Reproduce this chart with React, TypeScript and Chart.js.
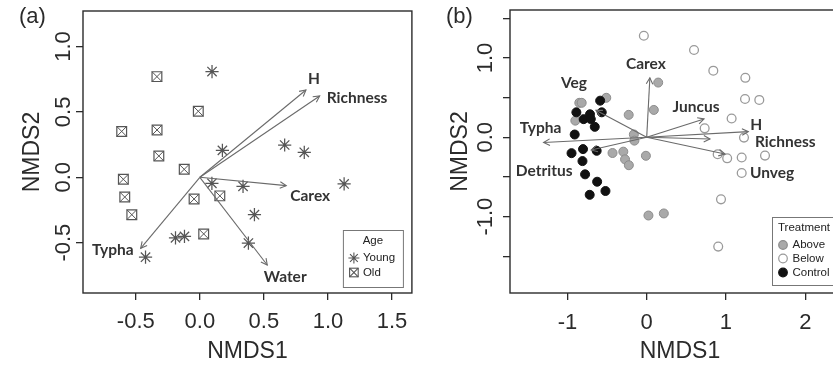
import React, { useEffect, useRef } from 'react';
import { Chart, registerables } from 'chart.js';

Chart.register(...registerables);

// ---------------- Panel (a) data ----------------
const youngX = [0.095, 0.176, 0.662, 0.815, 1.126, 0.094, 0.337, 0.426, 0.379, -0.19, -0.12, -0.424];
const youngY = [0.809, 0.206, 0.247, 0.191, -0.051, -0.046, -0.069, -0.286, -0.503, -0.463, -0.452, -0.611];
const oldX = [-0.335, -0.012, -0.61, -0.334, -0.32, -0.122, -0.597, -0.586, -0.531, -0.045, 0.156, 0.03];
const oldY = [0.77, 0.505, 0.351, 0.362, 0.163, 0.061, -0.015, -0.151, -0.286, -0.166, -0.142, -0.433];
const vecANames = ['H', 'Richness', 'Carex', 'Water', 'Typha'];
const vecAX = [0.828, 0.935, 0.674, 0.526, -0.462];
const vecAY = [0.668, 0.622, -0.064, -0.671, -0.543];
const ticksAX = [-0.5, 0, 0.5, 1, 1.5];
const ticksAY = [-0.5, 0, 0.5, 1];
const legendATitle = 'Age';
const legendAItems = ['Young', 'Old'];

// ---------------- Panel (b) data ----------------
const aboveX = [-0.85, -0.82, -0.51, -0.9, -0.227, 0.09, -0.162, -0.155, -0.431, -0.295, -0.273, -0.225, -0.01, 0.145, 0.022, 0.216];
const aboveY = [0.435, 0.435, 0.498, 0.21, 0.283, 0.345, 0.036, -0.042, -0.198, -0.181, -0.278, -0.352, -0.233, 0.69, -0.986, -0.96];
const belowX = [-0.036, 0.597, 0.84, 1.244, 1.24, 1.42, 1.071, 0.731, 1.227, 0.895, 1.015, 1.198, 1.492, 1.198, 0.937, 0.902];
const belowY = [1.28, 1.101, 0.84, 0.75, 0.483, 0.471, 0.237, 0.113, -0.004, -0.213, -0.265, -0.254, -0.231, -0.45, -0.782, -1.378];
const controlX = [-0.587, -0.567, -0.887, -0.795, -0.715, -0.705, -0.655, -0.908, -0.948, -0.803, -0.631, -0.81, -0.777, -0.625, -0.52, -0.719];
const controlY = [0.462, 0.315, 0.315, 0.229, 0.29, 0.23, 0.132, 0.035, -0.2, -0.149, -0.17, -0.3, -0.467, -0.56, -0.677, -0.725];
const vecBNames = ['Carex', 'Veg', 'Typha', 'Detritus', 'Juncus', 'H', 'Richness', 'Unveg'];
const vecBX = [0.04, -0.64, -1.3, -0.7, 0.723, 1.281, 0.798, 0.987];
const vecBY = [0.75, 0.34, -0.065, -0.16, 0.231, 0.071, -0.021, -0.21];
const ticksBX = [-1, 0, 1, 2];
const ticksBY = [-1.5, -1, -0.5, 0, 0.5, 1, 1.5];
const labeledBY = [-1, 0, 1];
const legendBTitle = 'Treatment';
const legendBItems = ['Above', 'Below', 'Control'];

// ---------------- styles ----------------
const AXIS_FONT = '"Liberation Sans", Arial, sans-serif';
const LABEL_FONT = 'bold 15.5px Lato, "Open Sans", sans-serif';
const INK = '#2b2b2b';
const ARROW = '#6a6a6a';
const SYM = '#555555';
const ABOVE_FILL = '#a9a9a9';
const ABOVE_EDGE = '#8c8c8c';
const BELOW_EDGE = '#9a9a9a';
const CONTROL = '#111111';

// pixel offsets of arrow labels from arrow tips
const labelPlaceA = [
  { dx: 8, dy: -11, align: 'center' },
  { dx: 7, dy: 2, align: 'left' },
  { dx: 4, dy: 10, align: 'left' },
  { dx: 18, dy: 12, align: 'center' },
  { dx: -7, dy: 2, align: 'right' },
];
const labelPlaceB = [
  { dx: -4, dy: -13.5, align: 'center' },
  { dx: -22, dy: -27, align: 'center' },
  { dx: -3, dy: -14, align: 'center' },
  { dx: -47, dy: 21.5, align: 'center' },
  { dx: -8, dy: -12, align: 'center' },
  { dx: 8, dy: -7, align: 'center' },
  { dx: 45, dy: 3, align: 'left' },
  { dx: 25, dy: 19, align: 'left' },
];

const pts = (xs: number[], ys: number[]) => xs.map((x, i) => ({ x, y: ys[i] }));

function arrowDatasets(names: string[], xs: number[], ys: number[], place: any[]) {
  return names.map((name, i) => ({
    label: name,
    data: [{ x: 0, y: 0 }, { x: xs[i], y: ys[i] }],
    showLine: true,
    pointRadius: 0,
    borderColor: ARROW,
    borderWidth: 1.1,
    arrow: true,
    place: place[i],
    order: 0,
  }));
}

function drawStar(ctx: CanvasRenderingContext2D, x: number, y: number, r: number) {
  ctx.beginPath();
  for (let k = 0; k < 4; k++) {
    const a = (k * Math.PI) / 4;
    ctx.moveTo(x - r * Math.cos(a), y - r * Math.sin(a));
    ctx.lineTo(x + r * Math.cos(a), y + r * Math.sin(a));
  }
  ctx.stroke();
}

function drawBoxX(ctx: CanvasRenderingContext2D, x: number, y: number, h: number) {
  ctx.strokeRect(x - h, y - h, 2 * h, 2 * h);
  ctx.beginPath();
  ctx.moveTo(x - h, y - h);
  ctx.lineTo(x + h, y + h);
  ctx.moveTo(x + h, y - h);
  ctx.lineTo(x - h, y + h);
  ctx.stroke();
}

const overlayPlugin = (kind: 'a' | 'b') => ({
  id: 'overlay_' + kind,
  afterDatasetsDraw(chart: any) {
    const ctx: CanvasRenderingContext2D = chart.ctx;
    const ca = chart.chartArea;
    ctx.save();
    // arrow heads + labels
    chart.data.datasets.forEach((ds: any, i: number) => {
      if (!ds.arrow) return;
      const meta = chart.getDatasetMeta(i);
      const p0 = meta.data[0];
      const p1 = meta.data[1];
      const ang = Math.atan2(p1.y - p0.y, p1.x - p0.x);
      const L = 7;
      const A = Math.PI / 6.5;
      ctx.strokeStyle = ARROW;
      ctx.lineWidth = 1.1;
      ctx.beginPath();
      ctx.moveTo(p1.x - L * Math.cos(ang - A), p1.y - L * Math.sin(ang - A));
      ctx.lineTo(p1.x, p1.y);
      ctx.lineTo(p1.x - L * Math.cos(ang + A), p1.y - L * Math.sin(ang + A));
      ctx.stroke();
      ctx.font = LABEL_FONT;
      ctx.fillStyle = '#333';
      ctx.textAlign = ds.place.align;
      ctx.textBaseline = 'middle';
      ctx.fillText(ds.label, p1.x + ds.place.dx, p1.y + ds.place.dy);
    });
    // plot box
    ctx.strokeStyle = INK;
    ctx.lineWidth = 1.4;
    ctx.strokeRect(ca.left, ca.top, ca.right - ca.left, ca.bottom - ca.top);

    // legend
    ctx.font = '11.5px ' + AXIS_FONT;
    ctx.textBaseline = 'middle';
    if (kind === 'a') {
      const w = 60, h = 57;
      const L = ca.right - 9 - w, T = ca.bottom - 6 - h;
      ctx.fillStyle = '#fff';
      ctx.fillRect(L, T, w, h);
      ctx.strokeStyle = '#777';
      ctx.lineWidth = 1;
      ctx.strokeRect(L + 0.5, T + 0.5, w, h);
      ctx.fillStyle = '#222';
      ctx.textAlign = 'center';
      ctx.fillText(legendATitle, L + w / 2, T + 11);
      ctx.textAlign = 'left';
      ctx.strokeStyle = SYM;
      ctx.lineWidth = 1.1;
      drawStar(ctx, L + 11, T + 28, 5.5);
      ctx.fillText(legendAItems[0], L + 20, T + 28);
      drawBoxX(ctx, L + 11, T + 42.5, 4.3);
      ctx.fillText(legendAItems[1], L + 20, T + 42.5);
    } else {
      const w = 70, h = 68;
      const L = ca.right - 8 - w, T = ca.bottom - 8 - h;
      ctx.fillStyle = '#fff';
      ctx.fillRect(L, T, w, h);
      ctx.strokeStyle = '#777';
      ctx.lineWidth = 1;
      ctx.strokeRect(L + 0.5, T + 0.5, w, h);
      ctx.fillStyle = '#222';
      ctx.textAlign = 'left';
      ctx.fillText(legendBTitle, L + 6, T + 11);
      const ys = [T + 28, T + 41.5, T + 55.5];
      const fills = [ABOVE_FILL, '#ffffff', CONTROL];
      const edges = [ABOVE_EDGE, BELOW_EDGE, CONTROL];
      ys.forEach((yy, k) => {
        ctx.beginPath();
        ctx.arc(L + 11, yy, 4.3, 0, Math.PI * 2);
        ctx.fillStyle = fills[k];
        ctx.fill();
        ctx.strokeStyle = edges[k];
        ctx.lineWidth = 1.2;
        ctx.stroke();
        ctx.fillStyle = '#222';
        ctx.fillText(legendBItems[k], L + 20.5, yy);
      });
    }
    ctx.restore();
  },
});

function makeScales(o: any) {
  const tickFont = { family: AXIS_FONT, size: 22, lineHeight: 1 };
  const titleFont = { family: AXIS_FONT, size: 23, lineHeight: 1 };
  const grid = { drawOnChartArea: false, drawTicks: true, tickLength: 7, color: INK, lineWidth: 1.3 };
  return {
    x: {
      type: 'linear',
      position: 'bottom',
      min: o.xMin,
      max: o.xMax,
      afterBuildTicks: (s: any) => {
        s.ticks = o.xTicks.map((v: number) => ({ value: v }));
      },
      afterFit: (s: any) => {
        s.height = o.xAxisH;
        s.paddingLeft = 0;
        s.paddingRight = 0;
      },
      grid,
      border: { display: false },
      ticks: {
        autoSkip: false,
        maxRotation: 0,
        minRotation: 0,
        padding: o.xPad,
        font: tickFont,
        color: INK,
        callback: o.xFmt,
      },
      title: { display: true, text: 'NMDS1', font: titleFont, color: INK, padding: { top: 0, bottom: 3.5 } },
    },
    y: {
      type: 'linear',
      position: 'left',
      min: o.yMin,
      max: o.yMax,
      afterBuildTicks: (s: any) => {
        s.ticks = o.yTicks.map((v: number) => ({ value: v }));
      },
      afterFit: (s: any) => {
        s.width = o.yAxisW;
        s.paddingTop = 0;
        s.paddingBottom = 0;
      },
      grid,
      border: { display: false },
      ticks: {
        autoSkip: false,
        minRotation: 90,
        maxRotation: 90,
        crossAlign: 'center',
        padding: o.yPad,
        font: tickFont,
        color: INK,
        callback: o.yFmt,
      },
      title: { display: true, text: 'NMDS2', font: titleFont, color: INK, padding: { top: o.yTitlePad, bottom: 0 } },
    },
  };
}

function configA(): any {
  return {
    type: 'scatter',
    data: {
      datasets: [
        ...arrowDatasets(vecANames, vecAX, vecAY, labelPlaceA),
        {
          label: 'Young',
          data: pts(youngX, youngY),
          pointStyle: 'star',
          pointRadius: 6.6,
          borderColor: SYM,
          pointBorderWidth: 1.25,
          backgroundColor: 'rgba(0,0,0,0)',
          order: 1,
        },
        {
          label: 'Old',
          data: pts(oldX, oldY),
          pointStyle: 'rect',
          pointRadius: 6.9,
          borderColor: SYM,
          pointBorderWidth: 1.2,
          backgroundColor: 'rgba(0,0,0,0)',
          order: 2,
        },
        {
          label: 'Old-x',
          data: pts(oldX, oldY),
          pointStyle: 'crossRot',
          pointRadius: 6.9,
          borderColor: SYM,
          pointBorderWidth: 1,
          backgroundColor: 'rgba(0,0,0,0)',
          order: 2,
        },
      ],
    },
    options: {
      responsive: false,
      maintainAspectRatio: false,
      animation: false,
      devicePixelRatio: 1,
      events: [],
      layout: { padding: { left: 0, top: 11, right: 2, bottom: 0 } },
      plugins: { legend: { display: false }, tooltip: { enabled: false } },
      scales: makeScales({
        xMin: -0.912,
        xMax: 1.655,
        yMin: -0.885,
        yMax: 1.272,
        xTicks: ticksAX,
        yTicks: ticksAY,
        xAxisH: 74,
        yAxisW: 83,
        xPad: 11,
        yPad: -7,
        yTitlePad: 21,
        xFmt: (v: number) => Number(v).toFixed(1),
        yFmt: (v: number) => Number(v).toFixed(1),
      }),
    },
    plugins: [overlayPlugin('a')],
  };
}

function configB(): any {
  return {
    type: 'scatter',
    data: {
      datasets: [
        ...arrowDatasets(vecBNames, vecBX, vecBY, labelPlaceB),
        {
          label: 'Control',
          data: pts(controlX, controlY),
          pointStyle: 'circle',
          pointRadius: 4.5,
          backgroundColor: CONTROL,
          borderColor: CONTROL,
          pointBorderWidth: 1,
          order: 1,
        },
        {
          label: 'Below',
          data: pts(belowX, belowY),
          pointStyle: 'circle',
          pointRadius: 4.4,
          backgroundColor: '#ffffff',
          borderColor: BELOW_EDGE,
          pointBorderWidth: 1.3,
          order: 2,
        },
        {
          label: 'Above',
          data: pts(aboveX, aboveY),
          pointStyle: 'circle',
          pointRadius: 4.5,
          backgroundColor: ABOVE_FILL,
          borderColor: ABOVE_EDGE,
          pointBorderWidth: 1,
          order: 3,
        },
      ],
    },
    options: {
      responsive: false,
      maintainAspectRatio: false,
      animation: false,
      devicePixelRatio: 1,
      events: [],
      layout: { padding: { left: 0, top: 10, right: 10, bottom: 0 } },
      plugins: { legend: { display: false }, tooltip: { enabled: false } },
      scales: makeScales({
        xMin: -1.724,
        xMax: 2.564,
        yMin: -1.963,
        yMax: 1.605,
        xTicks: ticksBX,
        yTicks: ticksBY,
        xAxisH: 74,
        yAxisW: 90,
        xPad: 12,
        yPad: -2,
        yTitlePad: 29,
        xFmt: (v: number) => String(Math.round(Number(v))),
        yFmt: (v: number) => (labeledBY.includes(Number(v)) ? Number(v).toFixed(1) : ''),
      }),
    },
    plugins: [overlayPlugin('b')],
  };
}

export default function App() {
  const refA = useRef<HTMLCanvasElement>(null);
  const refB = useRef<HTMLCanvasElement>(null);
  useEffect(() => {
    const a = new Chart(refA.current as HTMLCanvasElement, configA());
    const b = new Chart(refB.current as HTMLCanvasElement, configB());
    return () => {
      a.destroy();
      b.destroy();
    };
  }, []);
  const tag: React.CSSProperties = {
    position: 'absolute',
    top: 5,
    fontFamily: AXIS_FONT,
    fontSize: 22,
    lineHeight: '22px',
    color: INK,
  };
  return (
    <div style={{ position: 'absolute', left: 0, top: 0, width: 833, height: 367, overflow: 'hidden', background: '#fff' }}>
      <div style={{ position: 'absolute', left: 0, top: 0, width: 420, height: 367 }}>
        <canvas ref={refA} width={420} height={367} style={{ display: 'block', width: 420, height: 367 }} />
      </div>
      <div style={{ position: 'absolute', left: 420, top: 0, width: 440, height: 367 }}>
        <canvas ref={refB} width={440} height={367} style={{ display: 'block', width: 440, height: 367 }} />
      </div>
      <div style={{ ...tag, left: 19 }}>(a)</div>
      <div style={{ ...tag, left: 446 }}>(b)</div>
    </div>
  );
}
